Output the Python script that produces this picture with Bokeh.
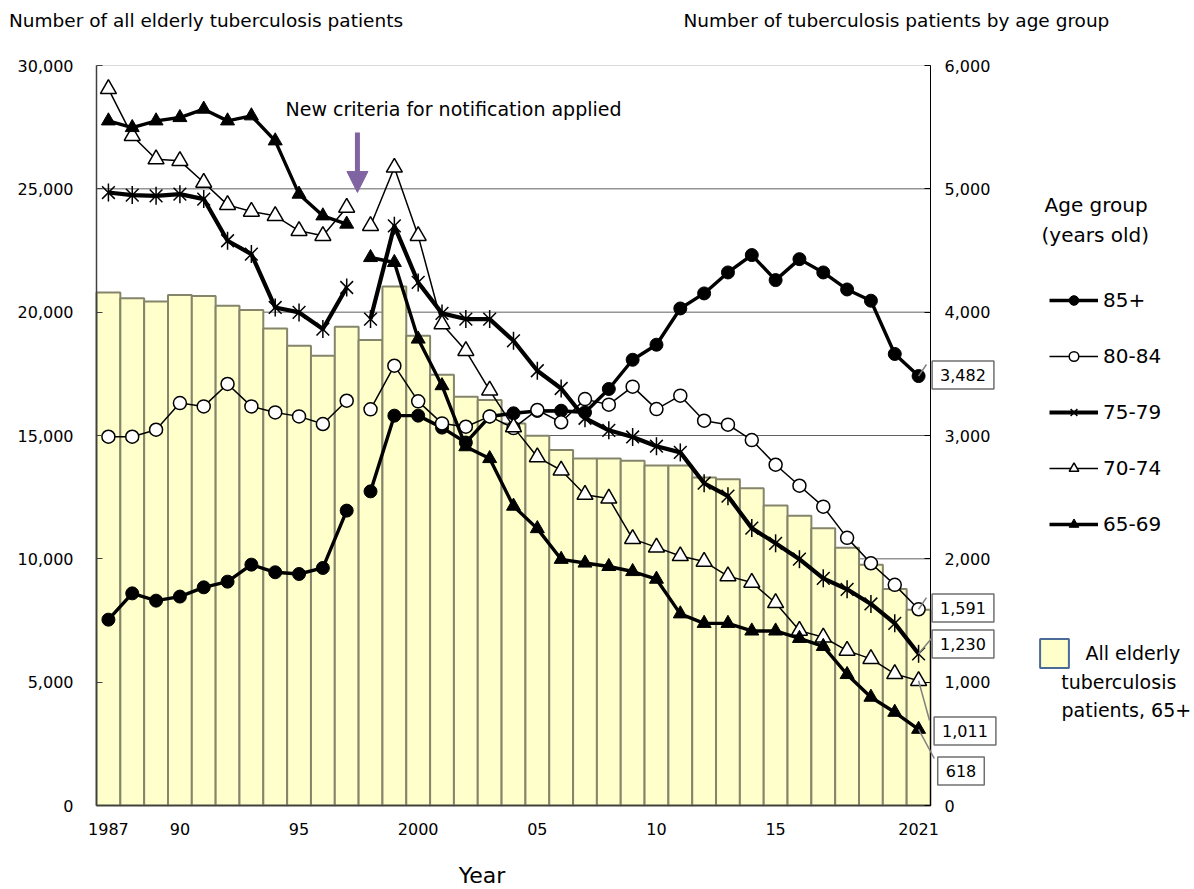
from bokeh.plotting import figure
from bokeh.models import (Range1d, LinearAxis, SingleIntervalTicker, FixedTicker,
                          NumeralTickFormatter, Label, Arrow, NormalHead, Legend,
                          LegendItem, BoxAnnotation)
from bokeh.embed import file_html
from bokeh.resources import INLINE
import math

# ---------------- data ----------------
years = list(range(1987, 2022))
x_ticks = [1987, 1990, 1995, 2000, 2005, 2010, 2015, 2021]
x_tick_labels = ["1987", "90", "95", "2000", "05", "10", "15", "2021"]

all_elderly = [20800, 20560, 20430, 20700, 20660, 20260, 20085, 19340, 18640, 18230,
               19410, 18870, 21040, 19040, 17460, 16570, 16440, 15490, 14990, 14410,
               14070, 14070, 13980, 13780, 13780, 13300, 13230, 12860, 12160, 11750,
               11240, 10450, 9765, 8780, 7932]

age_85_plus = [1507, 1720, 1661, 1694, 1769, 1815, 1953, 1891, 1877, 1926,
               2391, 2547, 3161, 3161, 3064, 2943, 3154, 3180, 3199, 3201,
               3187, 3377, 3614, 3736, 4030, 4152, 4322, 4463, 4260, 4430,
               4322, 4184, 4093, 3661, 3482]
age_80_84 = [2990, 2990, 3047, 3263, 3236, 3418, 3236, 3187, 3155, 3093,
             3282, 3212, 3566, 3277, 3098, 3071, 3155, 3060, 3207, 3107,
             3295, 3250, 3396, 3214, 3323, 3120, 3088, 2963, 2763, 2593,
             2423, 2170, 1964, 1789, 1591]
age_75_79 = [4970, 4949, 4943, 4957, 4917, 4579, 4471, 4038, 3998, 3863,
             4200, 3944, 4700, 4241, 3990, 3944, 3944, 3768, 3525, 3381,
             3140, 3042, 2988, 2913, 2863, 2613, 2508, 2249, 2126, 1997,
             1842, 1753, 1634, 1477, 1230]
age_70_74 = [5810, 5430, 5240, 5227, 5051, 4870, 4816, 4781, 4660, 4619,
             4848, 4700, 5173, 4619, 3904, 3687, 3366, 3068, 2825, 2718,
             2520, 2490, 2162, 2093, 2023, 1978, 1860, 1808, 1642, 1418,
             1364, 1256, 1189, 1067, 1011]
age_65_69 = [5551, 5497, 5551, 5578, 5646, 5551, 5592, 5389, 4957, 4781,
             4714, 4443, 4403, 3782, 3404, 2909, 2813, 2427, 2245, 1996,
             1966, 1938, 1897, 1835, 1554, 1477, 1477, 1415, 1415, 1355,
             1290, 1062, 878, 756, 618]

criteria_year = 1998  # new notification criteria: lines break here
left_max, left_step = 30000, 5000
right_max, right_step = 6000, 1000

FONT = "DejaVu Sans"

# ---------------- layout (pixels) ----------------
W, H = 1192, 888
FL, FR, FT, FB = 96, 930, 65, 805          # plot area on the canvas
X0, X1 = years[0] - 0.5, years[-1] + 0.5

xs = (FR - FL) / (X1 - X0)
ys = (FB - FT) / left_max
k = right_max / left_max
x_range = Range1d(X0 - FL / xs, X1 + (W - FR) / xs)
y_lo, y_hi = -(H - FB) / ys, left_max + FT / ys
y_range = Range1d(y_lo, y_hi)

p = figure(width=W, height=H, output_backend="svg", toolbar_location=None,
           title=None, x_range=x_range, y_range=y_range, min_border=0,
           min_border_left=0, min_border_right=0, min_border_top=0,
           min_border_bottom=0, background_fill_color="white",
           border_fill_color="white")
p.extra_y_ranges = {"right": Range1d(y_lo * k, y_hi * k)}
p.outline_line_color = None
p.xgrid.visible = False
p.ygrid.visible = False


def sx(px):
    return px


def sy(py):
    return H - py


# axes drawn at fixed locations around the plot area
lax = p.yaxis[0]
lax.fixed_location = X0
lax.bounds = (0, left_max)
lax.ticker = SingleIntervalTicker(interval=left_step, num_minor_ticks=0)
lax.formatter = NumeralTickFormatter(format="0,0")
lax.major_tick_in = 6
lax.major_tick_out = 0
lax.axis_line_color = "#404040"
lax.axis_line_width = 1.5
lax.major_tick_line_color = "#404040"
lax.major_label_standoff = 23

rax = LinearAxis(y_range_name="right",
                 ticker=SingleIntervalTicker(interval=right_step, num_minor_ticks=0),
                 formatter=NumeralTickFormatter(format="0,0"))
rax.fixed_location = X1
rax.bounds = (0, right_max)
rax.major_tick_in = 6
rax.major_tick_out = 0
rax.axis_line_color = "black"
rax.major_label_standoff = 14
p.add_layout(rax, "right")

xax = p.xaxis[0]
xax.fixed_location = 0
xax.bounds = (X0, X1)
xax.ticker = FixedTicker(ticks=x_ticks)
xax.major_label_overrides = {t: l for t, l in zip(x_ticks, x_tick_labels)}
xax.major_tick_in = 0
xax.major_tick_out = 0
xax.axis_line_color = "#404040"
xax.axis_line_width = 1.5
xax.major_label_standoff = 17

for ax in (lax, rax, xax):
    ax.minor_tick_line_color = None
    ax.major_label_text_font = FONT
    ax.major_label_text_font_size = "16px"
    ax.major_label_text_color = "black"

# plot-area border and horizontal grid lines (behind the bars)
p.add_layout(BoxAnnotation(left=X0, right=X1, bottom=0, top=left_max,
                           fill_color=None, line_color="#808080", line_width=1,
                           level="underlay"))
grid_vals = list(range(left_step, left_max, left_step))
p.segment(x0=[X0] * len(grid_vals), x1=[X1] * len(grid_vals), y0=grid_vals,
          y1=grid_vals, line_color="#606060", line_width=1, level="underlay")

# bars
p.vbar(x=years, top=all_elderly, width=1.0, fill_color="#FFFFCC",
       line_color="#85856b", line_width=2)

split = years.index(criteria_year)


def draw_lines(vals, lw):
    rs = []
    for a, b in ((0, split), (split, len(years))):
        rs.append(p.line(years[a:b], vals[a:b], y_range_name="right",
                         line_color="black", line_width=lw, line_join="round"))
    return rs


l85 = draw_lines(age_85_plus, 3.4)
s85 = p.scatter(years, age_85_plus, y_range_name="right", marker="circle", size=13,
                fill_color="black", line_color="black")

l80 = draw_lines(age_80_84, 1.5)
s80 = p.scatter(years, age_80_84, y_range_name="right", marker="circle", size=13,
                fill_color="white", line_color="black", line_width=1.5)

l75 = draw_lines(age_75_79, 4.2)
s75a = p.scatter(years, age_75_79, y_range_name="right", marker="x", size=18,
                 line_color="black", line_width=1.5)
s75b = p.scatter(years, age_75_79, y_range_name="right", marker="dash", size=18,
                 angle=math.pi / 2, line_color="black", line_width=1.5)

l70 = draw_lines(age_70_74, 1.5)
s70 = p.scatter(years, age_70_74, y_range_name="right", marker="triangle", size=16,
                fill_color="white", line_color="black", line_width=1.5)

l65 = draw_lines(age_65_69, 3.4)
s65 = p.scatter(years, age_65_69, y_range_name="right", marker="triangle", size=14,
                fill_color="black", line_color="black")

# legend for age groups
legend = Legend(items=[
    LegendItem(label="85+", renderers=[l85[0], s85]),
    LegendItem(label="80-84", renderers=[l80[0], s80]),
    LegendItem(label="75-79", renderers=[l75[0], s75a, s75b]),
    LegendItem(label="70-74", renderers=[l70[0], s70]),
    LegendItem(label="65-69", renderers=[l65[0], s65]),
], location=(sx(1049), sy(536)), orientation="vertical", glyph_width=49,
    glyph_height=24, label_height=24, spacing=32, label_standoff=5, padding=0,
    margin=0, border_line_alpha=0, background_fill_alpha=0,
    label_text_font=FONT, label_text_font_size="20px", label_text_color="black")
p.add_layout(legend)

# legend swatch for the bars (hidden renderer used only for its legend glyph)
dummy = p.vbar(x=[years[0]], top=[0], width=1, fill_color="#FFFFCC",
               line_color="#4a6a98", line_width=2)
dummy.visible = False
legend2 = Legend(items=[LegendItem(label=" ", renderers=[dummy])],
                 location=(sx(1036.4), sy(670.6)), glyph_width=36, glyph_height=36,
                 label_height=36, padding=0, margin=0, border_line_alpha=0,
                 background_fill_alpha=0, label_text_font=FONT,
                 label_text_font_size="12px", click_policy="none")
p.add_layout(legend2)


def add_text(text, px, py, size):
    # py is the vertical centre of the capital letters
    p.add_layout(Label(x=sx(px), y=sy(py), x_units="screen", y_units="screen",
                       text=text, text_font=FONT, text_font_size=size,
                       text_align="left", text_baseline="middle",
                       text_color="black"))


add_text("Number of all elderly tuberculosis patients", 8.5, 19.5, "18.5px")
add_text("Number of tuberculosis patients by age group", 683, 20, "18.5px")
add_text("New criteria for notification applied", 285, 108.3, "19px")
add_text("Age group", 1044, 204.2, "20px")
add_text("(years old)", 1041, 234, "20px")
add_text("All elderly", 1085, 652, "19px")
add_text("tuberculosis", 1060.7, 681, "19px")
add_text("patients, 65+", 1061, 709.5, "19px")
add_text("Year", 458.3, 874.7, "22px")

# purple arrow marking the change of criteria
purple = "#8064A2"
p.add_layout(Arrow(end=NormalHead(size=21, fill_color=purple, line_color=purple),
                   x_start=1997.45, y_start=27284, x_end=1997.45, y_end=24852,
                   line_color=purple, line_width=5))

# 2021 value boxes with leader lines
last = len(years) - 1
boxes = [
    (age_85_plus[last], 962.5, 374.5, 2021.33, 3576),
    (age_80_84[last], 962.5, 607.5, 2021.33, 1686),
    (age_75_79[last], 962.5, 643.5, 2021.54, 1354),
    (age_70_74[last], 964.5, 730.5, 2021.46, 689),
    (age_65_69[last], 960.5, 770.5, 2021.66, 381),
]
for val, bx, by, ex, ey in boxes:
    p.add_layout(Arrow(end=None, x_start=years[last], y_start=val, x_end=ex, y_end=ey,
                       y_range_name="right", line_color="#808080", line_width=1.5))
    p.add_layout(Label(x=sx(bx), y=sy(by), x_units="screen", y_units="screen",
                       text=f"{val:,}", text_font=FONT, text_font_size="16px",
                       text_align="center", text_baseline="middle",
                       text_color="black", background_fill_color="white",
                       border_line_color="#707070", border_line_width=1.5,
                       padding=8))

open("out.html", "w").write(file_html(p, INLINE))
